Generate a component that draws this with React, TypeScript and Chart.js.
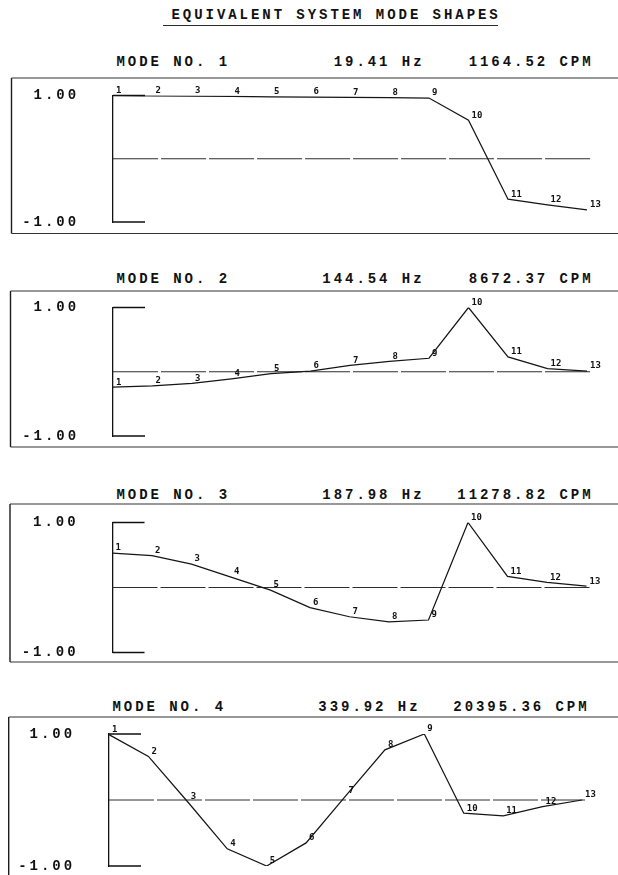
import { useEffect, useRef } from 'react';
import { Chart, registerables } from 'chart.js';

Chart.register(...registerables);

// ---------- data ----------
const nodeLabels = ['1', '2', '3', '4', '5', '6', '7', '8', '9', '10', '11', '12', '13'];
const mode1 = [1.0, 0.995, 0.99, 0.985, 0.98, 0.975, 0.97, 0.965, 0.96, 0.61, -0.64, -0.73, -0.81];
const mode2 = [-0.24, -0.22, -0.18, -0.11, -0.03, 0.01, 0.1, 0.16, 0.21, 1.0, 0.23, 0.05, 0.01];
const mode3 = [0.53, 0.49, 0.36, 0.16, -0.04, -0.31, -0.45, -0.53, -0.5, 1.0, 0.17, 0.08, 0.02];
const mode4 = [0.99, 0.66, -0.03, -0.74, -1.0, -0.65, 0.06, 0.76, 1.0, -0.2, -0.24, -0.1, 0.0];
const modeShapes = [mode1, mode2, mode3, mode4];
const modeNumbers = ['1', '2', '3', '4'];
const frequenciesHz = ['19.41', '144.54', '187.98', '339.92'];
const speedsCpm = ['1164.52', '8672.37', '11278.82', '20395.36'];
const yTickValues = [1, -1];
const titleText = 'EQUIVALENT SYSTEM MODE SHAPES';

// ---------- layout (positions only) ----------
const panelLayout = [
  { boxTop: 77.5, boxBottom: 233, boxLeft: 11.5, yTop: 95, yBottom: 222, xLeft: 113, xRight: 587, headerY: 62, shift: 0 },
  { boxTop: 291, boxBottom: 447, boxLeft: 10.5, yTop: 307.5, yBottom: 436, xLeft: 113, xRight: 587, headerY: 278.7, shift: 0 },
  { boxTop: 503.5, boxBottom: 661.5, boxLeft: 10, yTop: 522, yBottom: 652, xLeft: 112.5, xRight: 586.5, headerY: 495, shift: 0 },
  { boxTop: 717, boxBottom: 900, boxLeft: 8.7, yTop: 734, yBottom: 866, xLeft: 109, xRight: 582, headerY: 706.7, shift: -4 },
];

const MONO = '"Liberation Mono", "Courier New", monospace';
const FONT_SIZE = 14;
const SPACING = 2.95;

function ModePanel({ idx }: { idx: number }) {
  const ref = useRef<HTMLCanvasElement | null>(null);
  const L = panelLayout[idx];
  const canvasTop = L.boxTop - 4;
  const canvasBottom = Math.min(L.boxBottom + 4, 885);
  const h = canvasBottom - canvasTop;

  useEffect(() => {
    if (!ref.current) return;
    const framePlugin = {
      id: 'frame' + idx,
      beforeDraw(chart: any) {
        chart.ctx.letterSpacing = SPACING + 'px';
      },
      beforeDatasetsDraw(chart: any) {
        const ctx = chart.ctx;
        ctx.letterSpacing = '0px';
        const y = chart.scales.y;
        const area = chart.chartArea;
        ctx.save();
        // box: left border, top and bottom rules
        const bt = L.boxTop - canvasTop;
        const bb = L.boxBottom - canvasTop;
        ctx.strokeStyle = '#1c1c1c';
        ctx.lineWidth = 1.4;
        ctx.beginPath();
        ctx.moveTo(L.boxLeft, bt);
        ctx.lineTo(L.boxLeft, bb);
        ctx.stroke();
        ctx.lineWidth = 1.2;
        ctx.strokeStyle = '#333';
        ctx.beginPath();
        ctx.moveTo(L.boxLeft, bt);
        ctx.lineTo(618, bt);
        ctx.moveTo(L.boxLeft, bb);
        ctx.lineTo(618, bb);
        ctx.stroke();
        // bracket ticks at +1 / -1
        ctx.strokeStyle = '#111';
        ctx.lineWidth = 1.3;
        ctx.beginPath();
        for (const v of yTickValues) {
          const py = y.getPixelForValue(v);
          ctx.moveTo(area.left, py);
          ctx.lineTo(area.left + 32, py);
        }
        ctx.stroke();
        // zero reference line
        const pz = y.getPixelForValue(0);
        ctx.strokeStyle = '#2e2e2e';
        ctx.lineWidth = 1;
        ctx.setLineDash([45, 3]);
        ctx.beginPath();
        ctx.moveTo(area.left, pz);
        ctx.lineTo(area.right + 3, pz);
        ctx.stroke();
        ctx.restore();
      },
      afterDatasetsDraw(chart: any) {
        const ctx = chart.ctx;
        const meta = chart.getDatasetMeta(0);
        ctx.save();
        ctx.letterSpacing = '0px';
        ctx.fillStyle = '#111';
        ctx.font = 'bold 9px "DejaVu Sans Mono", monospace';
        ctx.textAlign = 'left';
        ctx.textBaseline = 'bottom';
        meta.data.forEach((pt: any, i: number) => {
          ctx.fillText(nodeLabels[i], pt.x + 3, pt.y - 0.5);
        });
        ctx.restore();
      },
    };

    const chart = new Chart(ref.current, {
      type: 'line',
      data: {
        labels: nodeLabels,
        datasets: [
          {
            data: modeShapes[idx],
            borderColor: '#151515',
            borderWidth: 1.25,
            pointRadius: 0,
            tension: 0,
            fill: false,
          },
        ],
      },
      options: {
        animation: false,
        responsive: false,
        events: [],
        layout: {
          padding: {
            left: 0,
            right: 618 - L.xRight,
            top: L.yTop - canvasTop,
            bottom: canvasBottom - L.yBottom,
          },
        },
        plugins: {
          legend: { display: false },
          tooltip: { enabled: false },
          title: { display: false },
        },
        scales: {
          x: { type: 'category', display: false, offset: false },
          y: {
            min: -1,
            max: 1,
            afterBuildTicks: (s: any) => {
              s.ticks = yTickValues.map((v) => ({ value: v }));
            },
            afterFit: (s: any) => {
              s.width = L.xLeft;
              s.paddingTop = 0;
              s.paddingBottom = 0;
            },
            grid: { display: false, drawTicks: false },
            border: { display: true, color: '#111', width: 1.3 },
            ticks: {
              padding: 34,
              color: '#111',
              font: { family: MONO, size: FONT_SIZE, weight: 'bold' },
              callback: (v: any) => Number(v).toFixed(2),
            },
          },
        },
      } as any,
      plugins: [framePlugin],
    });
    return () => chart.destroy();
  }, [idx]);

  const textStyle: any = {
    position: 'absolute',
    fontFamily: MONO,
    fontWeight: 'bold',
    fontSize: FONT_SIZE,
    lineHeight: '16px',
    letterSpacing: SPACING + 'px',
    color: '#111',
    whiteSpace: 'pre',
    top: L.headerY - 8,
  };

  return (
    <>
      <div style={{ ...textStyle, left: 116.5 + L.shift }}>{'MODE NO. ' + modeNumbers[idx]}</div>
      <div style={{ ...textStyle, left: 0, width: 424.5 + L.shift, textAlign: 'right' }}>
        {frequenciesHz[idx] + ' Hz'}
      </div>
      <div style={{ ...textStyle, left: 0, width: 593.5 + L.shift, textAlign: 'right' }}>
        {speedsCpm[idx] + ' CPM'}
      </div>
      <canvas
        ref={ref}
        width={618}
        height={h}
        style={{ position: 'absolute', left: 0, top: canvasTop, width: 618, height: h }}
      />
    </>
  );
}

export default function App() {
  return (
    <div
      style={{
        position: 'absolute',
        left: 0,
        top: 0,
        width: 618,
        height: 875,
        overflow: 'hidden',
        background: '#fff',
      }}
    >
      <div
        style={{
          position: 'absolute',
          left: 171.5,
          top: 15 - 8,
          fontFamily: MONO,
          fontWeight: 'bold',
          fontSize: FONT_SIZE,
          lineHeight: '16px',
          letterSpacing: SPACING + 'px',
          color: '#111',
          whiteSpace: 'pre',
        }}
      >
        {titleText}
      </div>
      <div
        style={{
          position: 'absolute',
          left: 163,
          top: 25,
          width: 335,
          borderTop: '1.5px solid #2a2a2a',
        }}
      />
      {modeShapes.map((_, i) => (
        <ModePanel key={i} idx={i} />
      ))}
    </div>
  );
}
